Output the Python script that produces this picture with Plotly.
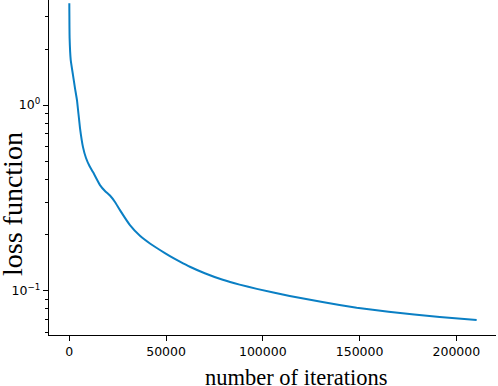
import plotly.graph_objects as go

# data
iterations = [0, 150, 720, 1900, 2940, 3980, 5520, 7070, 8620, 10430, 12240,
              15850, 18430, 21010, 23600, 26170, 31340, 36500, 41670, 46830,
              51990, 57150, 62300, 70000, 79300, 88000, 96900, 113900, 130800,
              148500, 165000, 191400, 210500]
loss = [3.53, 2.29, 1.75, 1.45, 1.23, 1.06, 0.752, 0.594, 0.519, 0.470, 0.436,
        0.371, 0.345, 0.326, 0.301, 0.272, 0.226, 0.198, 0.180, 0.166,
        0.154, 0.1438, 0.1349, 0.1245, 0.1148, 0.1081, 0.1026, 0.0940, 0.0871,
        0.0813, 0.0773, 0.0724, 0.0697]

x_ticks = [0, 50000, 100000, 150000, 200000]
y_ticks = [0.1, 1]
y_tick_text = ["10<sup>\u22121</sup>", "10<sup>0</sup>"]
y_minor = [0.06, 0.07, 0.08, 0.09, 0.2, 0.3, 0.4, 0.5, 0.6, 0.7, 0.8, 0.9, 2, 3]

fig = go.Figure()
fig.add_trace(go.Scatter(x=iterations, y=loss, mode="lines",
                         line=dict(color="#0a7fc4", width=2, shape="spline", smoothing=0.4)))

tickfont = dict(family="DejaVu Sans", size=12.5, color="black")
fig.update_layout(
    width=498, height=386,
    margin=dict(l=49, r=2, t=0, b=51),
    paper_bgcolor="white", plot_bgcolor="white",
    showlegend=False,
    xaxis=dict(range=[-10500, 220500], tickvals=x_ticks,
               ticktext=[str(v) for v in x_ticks], automargin=False,
               showgrid=False, zeroline=False, showline=True,
               linecolor="black", linewidth=1.3, ticks="outside",
               ticklen=5, tickwidth=1.2, tickcolor="black", tickfont=tickfont),
    yaxis=dict(type="log", range=[-1.237, 0.565], tickvals=y_ticks,
               ticktext=y_tick_text, showgrid=False, zeroline=False,
               automargin=False,
               showline=True, linecolor="black", linewidth=1.3,
               ticks="outside", ticklen=5, tickwidth=1.2, tickcolor="black",
               tickfont=tickfont,
               minor=dict(tickvals=y_minor, ticks="outside", ticklen=3,
                          tickwidth=1, tickcolor="black", showgrid=False)),
    font=dict(family="DejaVu Sans", color="black"),
)

fig.add_annotation(text="number of iterations", xref="paper", yref="paper",
                   x=(296 - 49) / 447, y=0, yanchor="bottom", xanchor="center",
                   yshift=-57, showarrow=False,
                   font=dict(family="Liberation Serif", size=22.5, color="black"))
fig.add_annotation(text="loss function", xref="paper", yref="paper",
                   x=0, y=(335 - 204) / 335, xanchor="center", yanchor="middle",
                   xshift=-37, textangle=-90, showarrow=False,
                   font=dict(family="Liberation Serif", size=28, color="black"))

fig.write_html("out.html", config={"displayModeBar": False},
               post_script="document.body.style.margin='0';document.body.style.padding='0';")
